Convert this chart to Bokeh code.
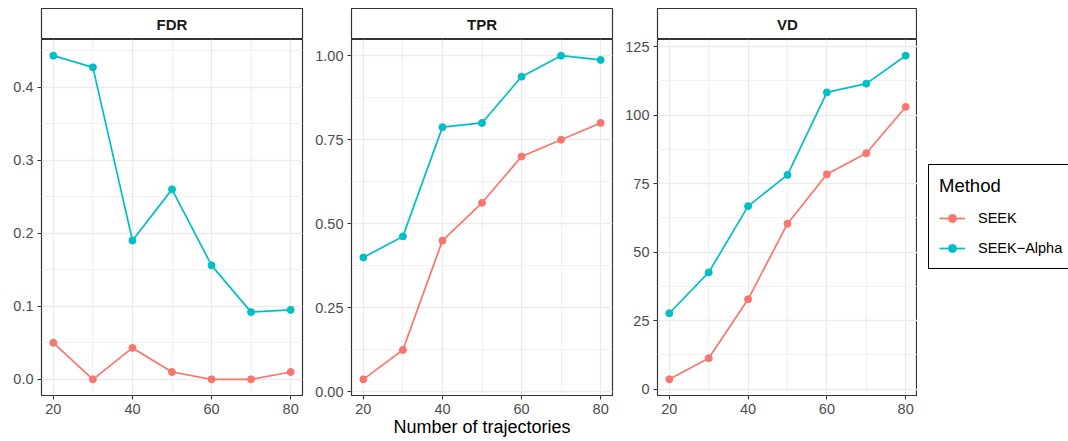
from bokeh.plotting import figure
from bokeh.models import Range1d, FixedTicker, NumeralTickFormatter, Legend, LegendItem, Label
from bokeh.layouts import row, column
from bokeh.embed import file_html
from bokeh.resources import INLINE

# ---- data ----
trajectories = [20, 30, 40, 50, 60, 70, 80]
methods = ["SEEK", "SEEK\u2212Alpha"]
colors = ["#F8766D", "#00BFC4"]

fdr_seek = [0.05, 0.0, 0.043, 0.01, 0.0, 0.0, 0.01]
fdr_alpha = [0.443, 0.427, 0.19, 0.26, 0.156, 0.092, 0.095]
tpr_seek = [0.0375, 0.125, 0.45, 0.5625, 0.70, 0.75, 0.80]
tpr_alpha = [0.40, 0.4625, 0.7875, 0.80, 0.9375, 1.0, 0.9875]
vd_seek = [3.6, 11.3, 32.8, 60.4, 78.4, 86.1, 103.0]
vd_alpha = [27.7, 42.6, 66.8, 78.2, 108.3, 111.5, 121.7]

x_ticks = [20, 40, 60, 80]
x_minor = [30, 50, 70]
fdr_ticks = [0.0, 0.1, 0.2, 0.3, 0.4]
fdr_minor = [0.05, 0.15, 0.25, 0.35, 0.45]
tpr_ticks = [0.0, 0.25, 0.5, 0.75, 1.0]
tpr_minor = [0.125, 0.375, 0.625, 0.875]
vd_ticks = [0, 25, 50, 75, 100, 125]
vd_minor = [12.5, 37.5, 62.5, 87.5, 112.5]

FONT = "Liberation Sans"
BORDER = "#333333"
GRID = "#EBEBEB"
FRAME_H = 356
STRIP_H = 31


def expand(vals, mult=0.05):
    lo, hi = min(vals), max(vals)
    d = (hi - lo) * mult
    return lo - d, hi + d


def make_panel(name, seek, alpha, yticks, yminor, fmt, lb, rb, fw, xlabel=None):
    strip = figure(frame_width=fw, frame_height=STRIP_H, min_border_left=lb, min_border_right=rb,
                   min_border_top=8, min_border_bottom=0, x_range=Range1d(0, 1), y_range=Range1d(0, 1),
                   x_axis_location=None, y_axis_location=None, toolbar_location=None,
                   output_backend="svg")
    strip.grid.visible = False
    strip.outline_line_color = BORDER
    strip.outline_line_width = 1.2
    strip.background_fill_color = "white"
    strip.border_fill_color = "white"
    strip.add_layout(Label(x=0.5, y=0.5, text=name, text_align="center", text_baseline="middle",
                           text_font=FONT, text_font_style="bold", text_font_size="15px",
                           text_color="#1A1A1A"))

    lo, hi = expand(seek + alpha)
    p = figure(frame_width=fw, frame_height=FRAME_H, min_border_left=lb, min_border_right=rb,
               min_border_top=0, min_border_bottom=0,
               x_range=Range1d(17, 83), y_range=Range1d(lo, hi),
               toolbar_location=None, output_backend="svg")
    p.outline_line_color = BORDER
    p.outline_line_width = 1.2
    p.background_fill_color = "white"
    p.border_fill_color = "white"

    p.xaxis.ticker = FixedTicker(ticks=x_ticks, minor_ticks=x_minor)
    p.yaxis.ticker = FixedTicker(ticks=yticks, minor_ticks=yminor)
    p.yaxis.formatter = NumeralTickFormatter(format=fmt)
    for ax in (p.xaxis[0], p.yaxis[0]):
        ax.axis_line_color = None
        ax.major_tick_line_color = BORDER
        ax.major_tick_line_width = 1.1
        ax.major_tick_in = 0
        ax.major_tick_out = 4
        ax.minor_tick_line_color = None
        ax.major_label_standoff = 4
        ax.major_label_text_font = FONT
        ax.major_label_text_font_size = "14.5px"
        ax.major_label_text_color = "#4D4D4D"
    if xlabel:
        p.xaxis.axis_label = xlabel
        p.xaxis.axis_label_text_font = FONT
        p.xaxis.axis_label_text_font_size = "18px"
        p.xaxis.axis_label_text_font_style = "normal"
        p.xaxis.axis_label_text_color = "black"
        p.xaxis.axis_label_standoff = 0

    for g in (p.xgrid[0], p.ygrid[0]):
        g.grid_line_color = GRID
        g.grid_line_width = 1.3
        g.minor_grid_line_color = GRID
        g.minor_grid_line_width = 0.7

    for vals, c in zip((seek, alpha), colors):
        p.line(trajectories, vals, line_color=c, line_width=1.7)
    for vals, c in zip((seek, alpha), colors):
        p.scatter(trajectories, vals, size=7, fill_color=c, line_color=c)
    return strip, p


s1, p1 = make_panel("FDR", fdr_seek, fdr_alpha, fdr_ticks, fdr_minor, "0.0", 41, 8, 261)
s2, p2 = make_panel("TPR", tpr_seek, tpr_alpha, tpr_ticks, tpr_minor, "0.00", 41, 8, 261,
                    xlabel="Number of trajectories")
s3, p3 = make_panel("VD", vd_seek, vd_alpha, vd_ticks, vd_minor, "0", 37, 0, 260)

# legend panel (keys only; the key renderers hold a single NaN point, so nothing is plotted)
lf = figure(width=151, height=441, min_border=0, x_range=Range1d(0, 1), y_range=Range1d(0, 1),
            x_axis_location=None, y_axis_location=None, toolbar_location=None,
            output_backend="svg")
lf.grid.visible = False
lf.outline_line_color = None
lf.background_fill_color = "white"
lf.border_fill_color = "white"
items = []
for m, c in zip(methods, colors):
    ln = lf.line([float("nan")], [float("nan")], line_color=c, line_width=1.7)
    sc = lf.scatter([float("nan")], [float("nan")], size=7, fill_color=c, line_color=c)
    items.append(LegendItem(label=m, renderers=[ln, sc]))

legend = Legend(
    items=items, location=(11, 172), title="Method",
    title_text_font=FONT, title_text_font_size="18.5px", title_text_font_style="normal",
    title_text_color="black", title_standoff=11,
    label_text_font=FONT, label_text_font_size="14.5px", label_text_color="black",
    glyph_width=26, glyph_height=20, label_height=20, label_standoff=13, spacing=10,
    padding=10, margin=0, border_line_color="black", border_line_width=1.8,
    border_line_alpha=1.0,
    background_fill_color="white", background_fill_alpha=1.0,
)
lf.add_layout(legend)

layout = row(column(s1, p1), column(s2, p2), column(s3, p3), lf)

open("out.html", "w").write(file_html(layout, INLINE))
